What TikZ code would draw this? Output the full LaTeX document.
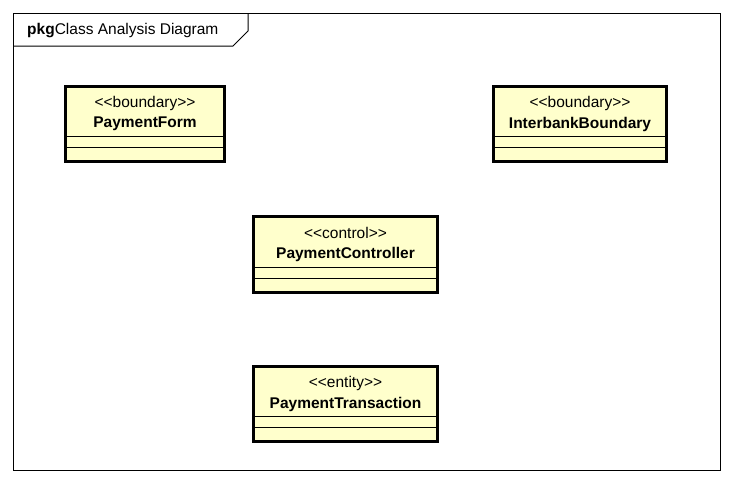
\documentclass[tikz,border=0pt]{standalone}
\usepackage{fontspec}
\setmainfont{Liberation Sans}
\definecolor{classfill}{HTML}{FFFFCC}
\begin{document}
\begin{tikzpicture}[x=1pt,y=-1pt,
  frameline/.style={draw=black,line width=1pt},
  classbox/.style={draw=black,line width=2.8pt,fill=classfill},
  compline/.style={draw=black,line width=0.9pt},
  stereo/.style={font=\fontsize{15.5}{17}\selectfont,inner sep=0pt},
  cname/.style={font=\fontsize{15.5}{17}\selectfont\bfseries,inner sep=0pt}]
\useasboundingbox (0,0) rectangle (734,485);
\fill[white] (0,0) rectangle (734,485);
% frame
\draw[frameline] (13.5,13.5) rectangle (720.5,470.5);
\draw[frameline] (13.5,46) -- (233,46) -- (248,31) -- (248,13.5);
\node[anchor=west,inner sep=0pt,font=\fontsize{15.5}{17}\selectfont] (title) at (27,30.5) {\textbf{pkg}Class Analysis Diagram};
% class boxes
\newcommand{\umlclass}[8]{% name, x1, y1, x2, y2, stereotype, classname, unused
  \draw[classbox] (#2,#3) rectangle (#4,#5);
  \coordinate (#1-l1) at (#2,#5-25);
  \coordinate (#1-l2) at (#2,#5-14);
  \draw[compline] (#1-l1) -- (#4,#5-25);
  \draw[compline] (#1-l2) -- (#4,#5-14);
  \node[stereo] (#1-st) at ({(#2+#4)/2},#3+16.5) {#6};
  \node[cname] (#1) at ({(#2+#4)/2},#3+37.5) {#7};
}
\umlclass{pf}{65.5}{86.5}{224.5}{161.5}{<{}<boundary>{}>}{PaymentForm}{}
\umlclass{ib}{493.5}{86.5}{666.5}{161.5}{<{}<boundary>{}>}{InterbankBoundary}{}
\umlclass{pc}{253.5}{216.5}{437.5}{292.5}{<{}<control>{}>}{PaymentController}{}
\umlclass{pt}{253.5}{366.5}{437.5}{441.5}{<{}<entity>{}>}{PaymentTransaction}{}
\end{tikzpicture}
\end{document}
